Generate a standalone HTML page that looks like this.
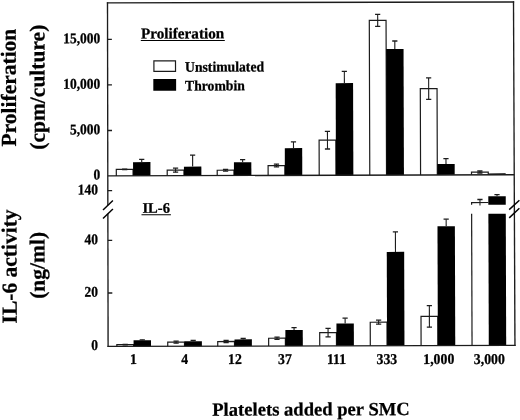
<!DOCTYPE html>
<html><head><meta charset="utf-8"><style>
html,body{margin:0;padding:0;background:#fff;}
body{width:520px;height:420px;overflow:hidden;}
svg{display:block;filter:grayscale(1);}
text{font-family:"Liberation Serif",serif;font-weight:bold;fill:#000;stroke:#000;stroke-width:0.25px;}
</style></head><body>
<svg width="520" height="420" viewBox="0 0 520 420">
<rect x="0" y="0" width="520" height="420" fill="#fff"/>
<g transform="rotate(-0.1776 310.0 175.0)">
<path d="M116.32,175.30 L116.32,168.83 L133.07,168.83 L133.07,175.30" fill="#fff" stroke="#1c1c1c" stroke-width="1.2"/>
<line x1="124.69" y1="168.53" x2="124.69" y2="169.13" stroke="#1c1c1c" stroke-width="1.1" stroke-linecap="butt"/>
<line x1="122.09" y1="168.53" x2="127.29" y2="168.53" stroke="#1c1c1c" stroke-width="1.3" stroke-linecap="butt"/>
<line x1="122.09" y1="169.13" x2="127.29" y2="169.13" stroke="#1c1c1c" stroke-width="1.3" stroke-linecap="butt"/>
<rect x="133.07" y="161.58" width="17.40" height="13.72" fill="#000"/>
<line x1="141.77" y1="158.88" x2="141.77" y2="161.58" stroke="#1c1c1c" stroke-width="1.1" stroke-linecap="butt"/>
<line x1="139.17" y1="158.88" x2="144.37" y2="158.88" stroke="#1c1c1c" stroke-width="1.3" stroke-linecap="butt"/>
<path d="M167.22,175.30 L167.22,169.78 L183.97,169.78 L183.97,175.30" fill="#fff" stroke="#1c1c1c" stroke-width="1.2"/>
<line x1="175.59" y1="167.78" x2="175.59" y2="171.78" stroke="#1c1c1c" stroke-width="1.1" stroke-linecap="butt"/>
<line x1="172.99" y1="167.78" x2="178.19" y2="167.78" stroke="#1c1c1c" stroke-width="1.3" stroke-linecap="butt"/>
<line x1="172.99" y1="171.78" x2="178.19" y2="171.78" stroke="#1c1c1c" stroke-width="1.3" stroke-linecap="butt"/>
<rect x="183.97" y="166.24" width="17.40" height="9.06" fill="#000"/>
<line x1="192.67" y1="154.74" x2="192.67" y2="166.24" stroke="#1c1c1c" stroke-width="1.1" stroke-linecap="butt"/>
<line x1="190.07" y1="154.74" x2="195.27" y2="154.74" stroke="#1c1c1c" stroke-width="1.3" stroke-linecap="butt"/>
<path d="M217.22,175.30 L217.22,169.94 L233.97,169.94 L233.97,175.30" fill="#fff" stroke="#1c1c1c" stroke-width="1.2"/>
<line x1="225.59" y1="169.04" x2="225.59" y2="170.84" stroke="#1c1c1c" stroke-width="1.1" stroke-linecap="butt"/>
<line x1="222.99" y1="169.04" x2="228.19" y2="169.04" stroke="#1c1c1c" stroke-width="1.3" stroke-linecap="butt"/>
<line x1="222.99" y1="170.84" x2="228.19" y2="170.84" stroke="#1c1c1c" stroke-width="1.3" stroke-linecap="butt"/>
<rect x="233.97" y="162.09" width="17.40" height="13.21" fill="#000"/>
<line x1="242.67" y1="159.39" x2="242.67" y2="162.09" stroke="#1c1c1c" stroke-width="1.1" stroke-linecap="butt"/>
<line x1="240.07" y1="159.39" x2="245.27" y2="159.39" stroke="#1c1c1c" stroke-width="1.3" stroke-linecap="butt"/>
<path d="M268.13,175.30 L268.13,165.40 L284.88,165.40 L284.88,175.30" fill="#fff" stroke="#1c1c1c" stroke-width="1.2"/>
<line x1="276.51" y1="164.00" x2="276.51" y2="166.80" stroke="#1c1c1c" stroke-width="1.1" stroke-linecap="butt"/>
<line x1="273.91" y1="164.00" x2="279.11" y2="164.00" stroke="#1c1c1c" stroke-width="1.3" stroke-linecap="butt"/>
<line x1="273.91" y1="166.80" x2="279.11" y2="166.80" stroke="#1c1c1c" stroke-width="1.3" stroke-linecap="butt"/>
<rect x="284.88" y="148.05" width="17.40" height="27.25" fill="#000"/>
<line x1="293.58" y1="141.85" x2="293.58" y2="148.05" stroke="#1c1c1c" stroke-width="1.1" stroke-linecap="butt"/>
<line x1="290.98" y1="141.85" x2="296.18" y2="141.85" stroke="#1c1c1c" stroke-width="1.3" stroke-linecap="butt"/>
<path d="M319.21,175.30 L319.21,140.25 L335.96,140.25 L335.96,175.30" fill="#fff" stroke="#1c1c1c" stroke-width="1.2"/>
<line x1="327.58" y1="131.45" x2="327.58" y2="149.05" stroke="#1c1c1c" stroke-width="1.1" stroke-linecap="butt"/>
<line x1="324.98" y1="131.45" x2="330.18" y2="131.45" stroke="#1c1c1c" stroke-width="1.3" stroke-linecap="butt"/>
<line x1="324.98" y1="149.05" x2="330.18" y2="149.05" stroke="#1c1c1c" stroke-width="1.3" stroke-linecap="butt"/>
<rect x="335.96" y="83.21" width="17.40" height="92.09" fill="#000"/>
<line x1="344.66" y1="71.41" x2="344.66" y2="83.21" stroke="#1c1c1c" stroke-width="1.1" stroke-linecap="butt"/>
<line x1="342.06" y1="71.41" x2="347.26" y2="71.41" stroke="#1c1c1c" stroke-width="1.3" stroke-linecap="butt"/>
<path d="M369.78,175.30 L369.78,20.51 L386.53,20.51 L386.53,175.30" fill="#fff" stroke="#1c1c1c" stroke-width="1.2"/>
<line x1="378.16" y1="14.51" x2="378.16" y2="26.51" stroke="#1c1c1c" stroke-width="1.1" stroke-linecap="butt"/>
<line x1="375.56" y1="14.51" x2="380.76" y2="14.51" stroke="#1c1c1c" stroke-width="1.3" stroke-linecap="butt"/>
<line x1="375.56" y1="26.51" x2="380.76" y2="26.51" stroke="#1c1c1c" stroke-width="1.3" stroke-linecap="butt"/>
<rect x="386.53" y="49.36" width="17.40" height="125.94" fill="#000"/>
<line x1="395.23" y1="41.26" x2="395.23" y2="49.36" stroke="#1c1c1c" stroke-width="1.1" stroke-linecap="butt"/>
<line x1="392.63" y1="41.26" x2="397.83" y2="41.26" stroke="#1c1c1c" stroke-width="1.3" stroke-linecap="butt"/>
<path d="M420.57,175.30 L420.57,88.97 L437.32,88.97 L437.32,175.30" fill="#fff" stroke="#1c1c1c" stroke-width="1.2"/>
<line x1="428.94" y1="78.27" x2="428.94" y2="99.67" stroke="#1c1c1c" stroke-width="1.1" stroke-linecap="butt"/>
<line x1="426.34" y1="78.27" x2="431.54" y2="78.27" stroke="#1c1c1c" stroke-width="1.3" stroke-linecap="butt"/>
<line x1="426.34" y1="99.67" x2="431.54" y2="99.67" stroke="#1c1c1c" stroke-width="1.3" stroke-linecap="butt"/>
<rect x="437.32" y="164.42" width="17.40" height="10.88" fill="#000"/>
<line x1="446.02" y1="159.12" x2="446.02" y2="164.42" stroke="#1c1c1c" stroke-width="1.1" stroke-linecap="butt"/>
<line x1="443.42" y1="159.12" x2="448.62" y2="159.12" stroke="#1c1c1c" stroke-width="1.3" stroke-linecap="butt"/>
<path d="M471.51,175.30 L471.51,172.53 L488.26,172.53 L488.26,175.30" fill="#fff" stroke="#1c1c1c" stroke-width="1.2"/>
<line x1="479.88" y1="171.53" x2="479.88" y2="173.53" stroke="#1c1c1c" stroke-width="1.1" stroke-linecap="butt"/>
<line x1="477.28" y1="171.53" x2="482.48" y2="171.53" stroke="#1c1c1c" stroke-width="1.3" stroke-linecap="butt"/>
<line x1="477.28" y1="173.53" x2="482.48" y2="173.53" stroke="#1c1c1c" stroke-width="1.3" stroke-linecap="butt"/>
<rect x="488.26" y="173.98" width="17.40" height="1.32" fill="#000"/>
<path d="M116.32,345.90 L116.32,344.02 L133.07,344.02 L133.07,345.90" fill="#fff" stroke="#1c1c1c" stroke-width="1.2"/>
<line x1="124.69" y1="343.72" x2="124.69" y2="344.32" stroke="#1c1c1c" stroke-width="1.1" stroke-linecap="butt"/>
<line x1="122.09" y1="343.72" x2="127.29" y2="343.72" stroke="#1c1c1c" stroke-width="1.3" stroke-linecap="butt"/>
<line x1="122.09" y1="344.32" x2="127.29" y2="344.32" stroke="#1c1c1c" stroke-width="1.3" stroke-linecap="butt"/>
<rect x="133.07" y="339.68" width="17.40" height="6.22" fill="#000"/>
<line x1="141.77" y1="339.28" x2="141.77" y2="339.68" stroke="#1c1c1c" stroke-width="1.1" stroke-linecap="butt"/>
<line x1="139.17" y1="339.28" x2="144.37" y2="339.28" stroke="#1c1c1c" stroke-width="1.3" stroke-linecap="butt"/>
<path d="M167.22,345.90 L167.22,341.78 L183.97,341.78 L183.97,345.90" fill="#fff" stroke="#1c1c1c" stroke-width="1.2"/>
<line x1="175.59" y1="340.78" x2="175.59" y2="342.78" stroke="#1c1c1c" stroke-width="1.1" stroke-linecap="butt"/>
<line x1="172.99" y1="340.78" x2="178.19" y2="340.78" stroke="#1c1c1c" stroke-width="1.3" stroke-linecap="butt"/>
<line x1="172.99" y1="342.78" x2="178.19" y2="342.78" stroke="#1c1c1c" stroke-width="1.3" stroke-linecap="butt"/>
<rect x="183.97" y="340.94" width="17.40" height="4.96" fill="#000"/>
<line x1="192.67" y1="340.04" x2="192.67" y2="340.94" stroke="#1c1c1c" stroke-width="1.1" stroke-linecap="butt"/>
<line x1="190.07" y1="340.04" x2="195.27" y2="340.04" stroke="#1c1c1c" stroke-width="1.3" stroke-linecap="butt"/>
<path d="M217.22,345.90 L217.22,341.24 L233.97,341.24 L233.97,345.90" fill="#fff" stroke="#1c1c1c" stroke-width="1.2"/>
<line x1="225.59" y1="340.24" x2="225.59" y2="342.24" stroke="#1c1c1c" stroke-width="1.1" stroke-linecap="butt"/>
<line x1="222.99" y1="340.24" x2="228.19" y2="340.24" stroke="#1c1c1c" stroke-width="1.3" stroke-linecap="butt"/>
<line x1="222.99" y1="342.24" x2="228.19" y2="342.24" stroke="#1c1c1c" stroke-width="1.3" stroke-linecap="butt"/>
<rect x="233.97" y="339.19" width="17.40" height="6.71" fill="#000"/>
<line x1="242.67" y1="338.29" x2="242.67" y2="339.19" stroke="#1c1c1c" stroke-width="1.1" stroke-linecap="butt"/>
<line x1="240.07" y1="338.29" x2="245.27" y2="338.29" stroke="#1c1c1c" stroke-width="1.3" stroke-linecap="butt"/>
<path d="M268.13,345.90 L268.13,338.10 L284.88,338.10 L284.88,345.90" fill="#fff" stroke="#1c1c1c" stroke-width="1.2"/>
<line x1="276.51" y1="337.00" x2="276.51" y2="339.20" stroke="#1c1c1c" stroke-width="1.1" stroke-linecap="butt"/>
<line x1="273.91" y1="337.00" x2="279.11" y2="337.00" stroke="#1c1c1c" stroke-width="1.3" stroke-linecap="butt"/>
<line x1="273.91" y1="339.20" x2="279.11" y2="339.20" stroke="#1c1c1c" stroke-width="1.3" stroke-linecap="butt"/>
<rect x="284.88" y="329.95" width="17.40" height="15.95" fill="#000"/>
<line x1="293.58" y1="327.55" x2="293.58" y2="329.95" stroke="#1c1c1c" stroke-width="1.1" stroke-linecap="butt"/>
<line x1="290.98" y1="327.55" x2="296.18" y2="327.55" stroke="#1c1c1c" stroke-width="1.3" stroke-linecap="butt"/>
<path d="M319.21,345.90 L319.21,332.65 L335.96,332.65 L335.96,345.90" fill="#fff" stroke="#1c1c1c" stroke-width="1.2"/>
<line x1="327.58" y1="328.35" x2="327.58" y2="336.95" stroke="#1c1c1c" stroke-width="1.1" stroke-linecap="butt"/>
<line x1="324.98" y1="328.35" x2="330.18" y2="328.35" stroke="#1c1c1c" stroke-width="1.3" stroke-linecap="butt"/>
<line x1="324.98" y1="336.95" x2="330.18" y2="336.95" stroke="#1c1c1c" stroke-width="1.3" stroke-linecap="butt"/>
<rect x="335.96" y="323.61" width="17.40" height="22.29" fill="#000"/>
<line x1="344.66" y1="318.31" x2="344.66" y2="323.61" stroke="#1c1c1c" stroke-width="1.1" stroke-linecap="butt"/>
<line x1="342.06" y1="318.31" x2="347.26" y2="318.31" stroke="#1c1c1c" stroke-width="1.3" stroke-linecap="butt"/>
<path d="M369.78,345.90 L369.78,322.41 L386.53,322.41 L386.53,345.90" fill="#fff" stroke="#1c1c1c" stroke-width="1.2"/>
<line x1="378.16" y1="320.41" x2="378.16" y2="324.41" stroke="#1c1c1c" stroke-width="1.1" stroke-linecap="butt"/>
<line x1="375.56" y1="320.41" x2="380.76" y2="320.41" stroke="#1c1c1c" stroke-width="1.3" stroke-linecap="butt"/>
<line x1="375.56" y1="324.41" x2="380.76" y2="324.41" stroke="#1c1c1c" stroke-width="1.3" stroke-linecap="butt"/>
<rect x="386.53" y="252.16" width="17.40" height="93.74" fill="#000"/>
<line x1="395.23" y1="232.16" x2="395.23" y2="252.16" stroke="#1c1c1c" stroke-width="1.1" stroke-linecap="butt"/>
<line x1="392.63" y1="232.16" x2="397.83" y2="232.16" stroke="#1c1c1c" stroke-width="1.3" stroke-linecap="butt"/>
<path d="M420.57,345.90 L420.57,316.77 L437.32,316.77 L437.32,345.90" fill="#fff" stroke="#1c1c1c" stroke-width="1.2"/>
<line x1="428.94" y1="305.97" x2="428.94" y2="327.57" stroke="#1c1c1c" stroke-width="1.1" stroke-linecap="butt"/>
<line x1="426.34" y1="305.97" x2="431.54" y2="305.97" stroke="#1c1c1c" stroke-width="1.3" stroke-linecap="butt"/>
<line x1="426.34" y1="327.57" x2="431.54" y2="327.57" stroke="#1c1c1c" stroke-width="1.3" stroke-linecap="butt"/>
<rect x="437.32" y="226.72" width="17.40" height="119.18" fill="#000"/>
<line x1="446.02" y1="219.62" x2="446.02" y2="226.72" stroke="#1c1c1c" stroke-width="1.1" stroke-linecap="butt"/>
<line x1="443.42" y1="219.62" x2="448.62" y2="219.62" stroke="#1c1c1c" stroke-width="1.3" stroke-linecap="butt"/>
<path d="M471.51,205.30 L471.51,203.03 L488.26,203.03" fill="none" stroke="#1c1c1c" stroke-width="1.2"/>
<line x1="471.51" y1="214.30" x2="471.51" y2="345.90" stroke="#1c1c1c" stroke-width="1.2" stroke-linecap="butt"/>
<line x1="479.88" y1="200.03" x2="479.88" y2="206.03" stroke="#1c1c1c" stroke-width="1.1" stroke-linecap="butt"/>
<line x1="477.28" y1="200.03" x2="482.48" y2="200.03" stroke="#1c1c1c" stroke-width="1.3" stroke-linecap="butt"/>
<rect x="488.26" y="196.88" width="17.40" height="8.42" fill="#000"/>
<rect x="488.26" y="214.30" width="17.40" height="131.60" fill="#000"/>
<line x1="496.96" y1="195.18" x2="496.96" y2="196.88" stroke="#1c1c1c" stroke-width="1.1" stroke-linecap="butt"/>
<line x1="494.36" y1="195.18" x2="499.56" y2="195.18" stroke="#1c1c1c" stroke-width="1.3" stroke-linecap="butt"/>
<text x="0" y="0" font-size="13.5" text-anchor="end" transform="translate(100.29,178.75) scale(1,1.1)">0</text>
<text x="0" y="0" font-size="13.5" text-anchor="end" transform="translate(100.43,133.65) scale(1,1.1)">5,000</text>
<text x="0" y="0" font-size="13.5" text-anchor="end" transform="translate(100.57,88.05) scale(1,1.1)">10,000</text>
<text x="0" y="0" font-size="13.5" text-anchor="end" transform="translate(100.71,42.55) scale(1,1.1)">15,000</text>
<text x="0" y="0" font-size="13.5" text-anchor="end" transform="translate(97.94,193.74) scale(1,1.1)">140</text>
<text x="0" y="0" font-size="13.5" text-anchor="end" transform="translate(97.79,243.54) scale(1,1.1)">40</text>
<text x="0" y="0" font-size="13.5" text-anchor="end" transform="translate(97.62,296.14) scale(1,1.1)">20</text>
<text x="0" y="0" font-size="13.5" text-anchor="end" transform="translate(97.46,349.44) scale(1,1.1)">0</text>
<text x="0" y="0" font-size="13.8" text-anchor="middle" transform="translate(132.92,363.35) scale(1,1.08)">1</text>
<text x="0" y="0" font-size="13.8" text-anchor="middle" transform="translate(184.02,363.51) scale(1,1.08)">4</text>
<text x="0" y="0" font-size="13.8" text-anchor="middle" transform="translate(234.41,363.67) scale(1,1.08)">12</text>
<text x="0" y="0" font-size="13.8" text-anchor="middle" transform="translate(284.41,363.82) scale(1,1.08)">37</text>
<text x="0" y="0" font-size="13.8" text-anchor="middle" transform="translate(335.91,363.98) scale(1,1.08)">111</text>
<text x="0" y="0" font-size="13.8" text-anchor="middle" transform="translate(386.31,364.14) scale(1,1.08)">333</text>
<text x="0" y="0" font-size="13.8" text-anchor="middle" transform="translate(438.21,364.30) scale(1,1.08)">1,000</text>
<text x="0" y="0" font-size="13.8" text-anchor="middle" transform="translate(488.81,364.46) scale(1,1.08)">3,000</text>
<text x="310.25" y="415.40" font-size="18.6" text-anchor="middle" >Platelets added per SMC</text>
<text x="0" y="0" font-size="21.5" text-anchor="middle" transform="translate(16.17,86.69) rotate(-90)">Proliferation</text>
<text x="0" y="0" font-size="21.5" text-anchor="middle" transform="translate(44.87,86.38) rotate(-90)">(cpm/culture)</text>
<text x="0" y="0" font-size="21.5" text-anchor="middle" transform="translate(16.32,265.49) rotate(-90)">IL-6 activity</text>
<text x="0" y="0" font-size="21.5" text-anchor="middle" transform="translate(44.32,264.58) rotate(-90)">(ng/ml)</text>
<text x="141.42" y="38.08" font-size="15.2" text-anchor="start" >Proliferation</text>
<line x1="141.22" y1="39.88" x2="225.22" y2="40.14" stroke="#000" stroke-width="1.0" stroke-linecap="butt"/>
<text x="142.28" y="212.28" font-size="14.6" text-anchor="start" >IL-6</text>
<line x1="141.38" y1="214.18" x2="170.78" y2="214.27" stroke="#000" stroke-width="1.0" stroke-linecap="butt"/>
<rect x="154.25" y="60.42" width="21.6" height="10.5" fill="#fff" stroke="#1c1c1c" stroke-width="1.2"/>
<rect x="153.60" y="78.51" width="22.80" height="11.80" fill="#000"/>
<text x="0" y="0" font-size="13.7" text-anchor="start" transform="translate(185.32,71.31) scale(1,1.06)">Unstimulated</text>
<text x="0" y="0" font-size="13.7" text-anchor="start" transform="translate(185.26,90.11) scale(1,1.06)">Thrombin</text>
</g>
<line x1="106.85" y1="2.86" x2="514.15" y2="1.97" stroke="#1c1c1c" stroke-width="1.35" stroke-linecap="butt"/>
<line x1="513.50" y1="1.32" x2="514.95" y2="346.05" stroke="#1c1c1c" stroke-width="1.35" stroke-linecap="butt"/>
<line x1="107.80" y1="175.84" x2="514.30" y2="174.77" stroke="#1c1c1c" stroke-width="1.35" stroke-linecap="butt"/>
<line x1="107.45" y1="346.44" x2="515.60" y2="345.40" stroke="#1c1c1c" stroke-width="1.35" stroke-linecap="butt"/>
<line x1="107.50" y1="2.21" x2="107.85" y2="205.30" stroke="#1c1c1c" stroke-width="1.35" stroke-linecap="butt"/>
<line x1="107.87" y1="213.70" x2="108.10" y2="347.09" stroke="#1c1c1c" stroke-width="1.35" stroke-linecap="butt"/>
<line x1="107.56" y1="39.40" x2="111.86" y2="39.39" stroke="#1c1c1c" stroke-width="1.4" stroke-linecap="butt"/>
<line x1="107.64" y1="84.90" x2="111.94" y2="84.89" stroke="#1c1c1c" stroke-width="1.4" stroke-linecap="butt"/>
<line x1="107.72" y1="130.50" x2="112.02" y2="130.49" stroke="#1c1c1c" stroke-width="1.4" stroke-linecap="butt"/>
<line x1="107.83" y1="190.60" x2="112.13" y2="190.59" stroke="#1c1c1c" stroke-width="1.4" stroke-linecap="butt"/>
<line x1="107.91" y1="240.40" x2="112.21" y2="240.39" stroke="#1c1c1c" stroke-width="1.4" stroke-linecap="butt"/>
<line x1="108.01" y1="293.00" x2="112.31" y2="292.99" stroke="#1c1c1c" stroke-width="1.4" stroke-linecap="butt"/>
<line x1="103.00" y1="210.10" x2="112.90" y2="200.60" stroke="#000" stroke-width="1.45" stroke-linecap="butt"/>
<line x1="103.00" y1="218.60" x2="112.90" y2="208.90" stroke="#000" stroke-width="1.45" stroke-linecap="butt"/>
<line x1="509.20" y1="209.60" x2="519.40" y2="200.20" stroke="#000" stroke-width="1.45" stroke-linecap="butt"/>
<line x1="509.20" y1="217.90" x2="519.40" y2="208.20" stroke="#000" stroke-width="1.45" stroke-linecap="butt"/>
</svg>
</body></html>
